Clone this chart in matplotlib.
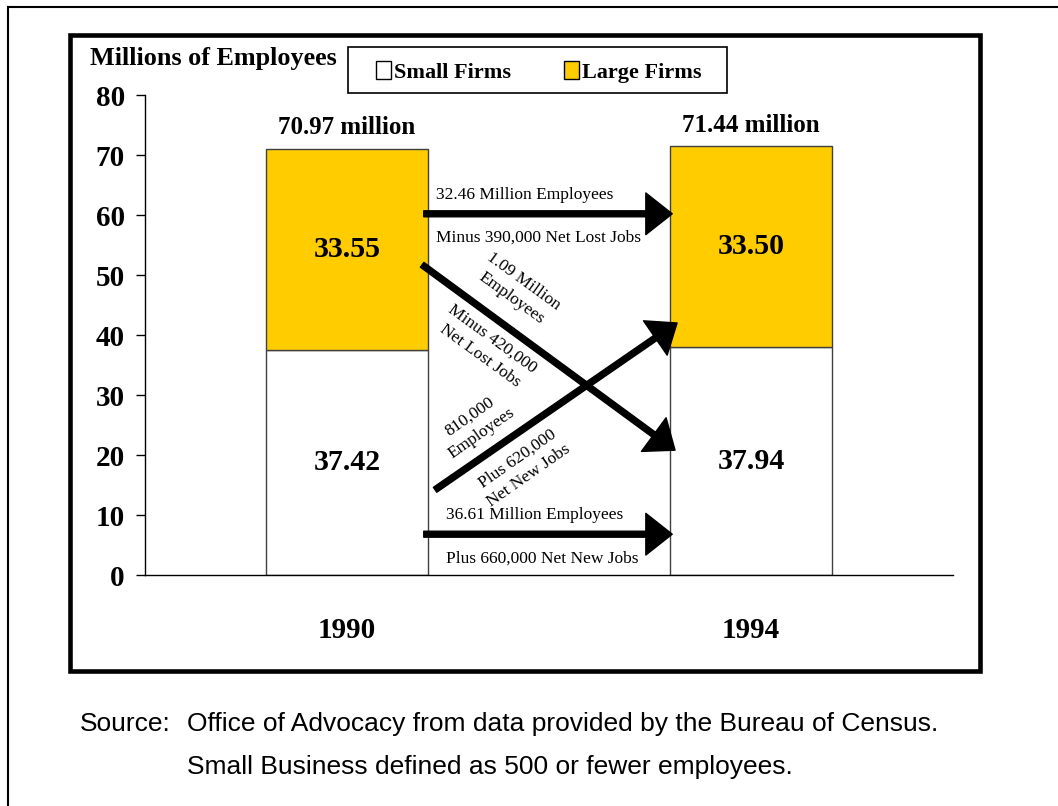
import matplotlib
matplotlib.use("Agg")
import matplotlib.pyplot as plt
from matplotlib.patches import Patch, Rectangle
from matplotlib.lines import Line2D

# data
years = ["1990", "1994"]
small_firms = [37.42, 37.94]
large_firms = [33.55, 33.50]
totals = [70.97, 71.44]
total_labels = ["70.97 million", "71.44 million"]
yticks = [0, 10, 20, 30, 40, 50, 60, 70, 80]

# flows between years (start, tip) in data coords, with their labels
flow_arrows = [
    ((0.19, 60.2), (0.805, 60.2)),   # large -> large
    ((0.19, 6.8), (0.805, 6.8)),     # small -> small
    ((0.186, 51.7), (0.812, 20.8)),  # large -> small
    ((0.218, 14.2), (0.817, 42.0)),  # small -> large
]
flow_texts = [
    ("32.46 Million Employees", 0.441, 63.3, 0),
    ("Minus 390,000 Net Lost Jobs", 0.475, 56.3, 0),
    ("36.61 Million Employees", 0.465, 10.0, 0),
    ("Plus 660,000 Net New Jobs", 0.483, 2.8, 0),
    ("1.09 Million\nEmployees", 0.421, 47.5, -36),
    ("Minus 420,000\nNet Lost Jobs", 0.345, 38.0, -36),
    ("810,000\nEmployees", 0.318, 25.0, 35),
    ("Plus 620,000\nNet New Jobs", 0.436, 18.0, 35),
]

W, H = 1058, 806
SERIF = "Liberation Serif"
YELLOW = "#FFCC00"

fig = plt.figure(figsize=(W / 100, H / 100), dpi=100)


def fx(px):
    return px / W


def fy(py):
    return 1 - py / H


ax = fig.add_axes([fx(145), fy(575), fx(953 - 145), (575 - 95) / H])

x = list(range(len(years)))
ax.bar(x, small_firms, width=0.4, color="white", edgecolor="#404040", linewidth=1, zorder=2)
ax.bar(x, large_firms, width=0.4, bottom=small_firms, color=YELLOW,
       edgecolor="#404040", linewidth=1, zorder=2)

for i in x:
    ax.text(i, small_firms[i] / 2, f"{small_firms[i]:.2f}", ha="center", va="center",
            fontsize=21.5, fontweight="bold", family=SERIF, zorder=3)
    ax.text(i, small_firms[i] + large_firms[i] / 2, f"{large_firms[i]:.2f}", ha="center",
            va="center", fontsize=21.5, fontweight="bold", family=SERIF, zorder=3)
    ax.annotate(total_labels[i], (i, totals[i]), xytext=(0, 7), textcoords="offset points",
                ha="center", va="bottom", fontsize=18, fontweight="bold", family=SERIF)

for start, tip in flow_arrows:
    ax.annotate("", xy=tip, xytext=start,
                arrowprops=dict(width=4.3, headwidth=30, headlength=19, shrink=0,
                                facecolor="black", edgecolor="black"), zorder=4)

for s, tx, ty, rot in flow_texts:
    ax.text(tx, ty, s, ha="center", va="center", rotation=rot, rotation_mode="anchor",
            multialignment="center", linespacing=1.4, fontsize=12.5, family=SERIF, zorder=5)

ax.set_xlim(-0.5, 1.5)
ax.set_ylim(0, 80)
ax.set_yticks(yticks)
ax.set_xticks(x)
ax.set_xticklabels(years)
for side in ["top", "right"]:
    ax.spines[side].set_visible(False)
ax.spines["left"].set_linewidth(1)
ax.spines["bottom"].set_linewidth(1)
ax.tick_params(axis="y", length=6.5, width=1, pad=8)
ax.tick_params(axis="x", length=0, pad=30)
for lab in ax.get_yticklabels() + ax.get_xticklabels():
    lab.set_fontsize(21)
    lab.set_fontweight("bold")
    lab.set_family(SERIF)

fig.text(fx(90), fy(58), "Millions of Employees", ha="left", va="center",
         fontsize=18.8, fontweight="bold", family=SERIF)

# legend with a hand-placed box
fig.patches.append(Rectangle((fx(348), fy(93)), fx(727 - 348), (93 - 47) / H,
                             transform=fig.transFigure, facecolor="white",
                             edgecolor="black", linewidth=1.2, zorder=1))
handles = [Patch(facecolor="white", edgecolor="black", linewidth=1),
           Patch(facecolor=YELLOW, edgecolor="black", linewidth=1)]
fig.legend(handles, ["Small Firms", "Large Firms"], loc="center",
           bbox_to_anchor=(fx(539), fy(72)), ncol=2, frameon=False,
           prop=dict(family=SERIF, weight="bold", size=16),
           handlelength=0.65, handleheight=0.85, handletextpad=0.15,
           columnspacing=2.4, borderpad=0)

# thick chart frame and page border
fig.patches.append(Rectangle((fx(69.5), fy(670.5)), fx(979.5 - 69.5), (670.5 - 34.5) / H,
                             transform=fig.transFigure, fill=False,
                             edgecolor="black", linewidth=3.3))
fig.lines.append(Line2D([fx(8), fx(8)], [fy(7), 0], transform=fig.transFigure,
                        color="black", linewidth=1.5))
fig.lines.append(Line2D([fx(8), 1], [fy(7), fy(7)], transform=fig.transFigure,
                        color="black", linewidth=1.5))

fig.text(fx(80), fy(724), "Source:", ha="left", va="center", fontsize=19,
         family="Liberation Sans")
fig.text(fx(187), fy(724), "Office of Advocacy from data provided by the Bureau of Census.",
         ha="left", va="center", fontsize=19, family="Liberation Sans")
fig.text(fx(187), fy(767), "Small Business defined as 500 or fewer employees.",
         ha="left", va="center", fontsize=19, family="Liberation Sans")

fig.savefig("out.png", dpi=100)
